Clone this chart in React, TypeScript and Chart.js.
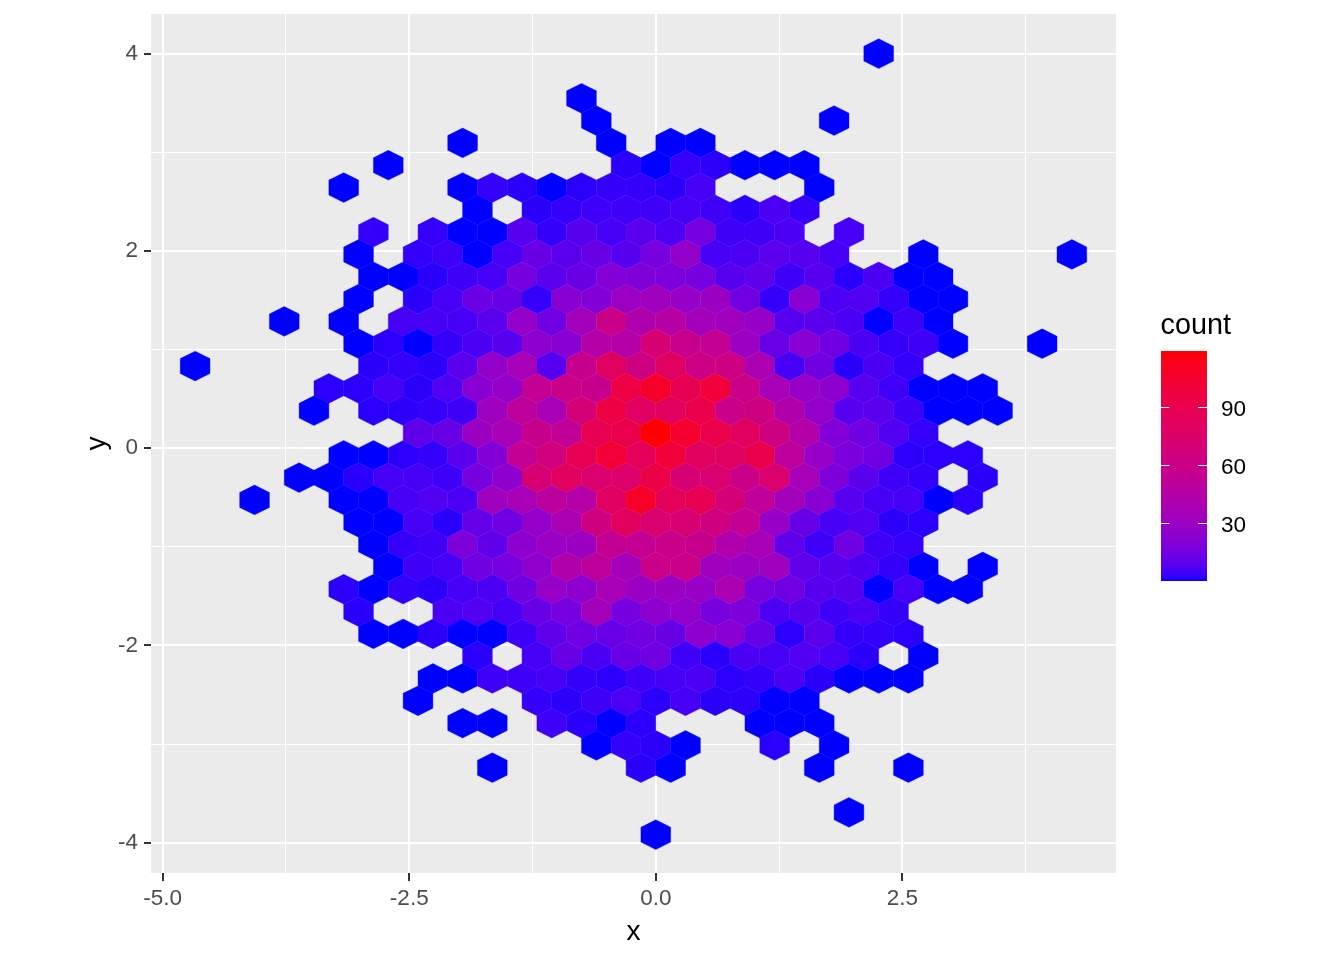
import React, { useEffect, useRef } from "react";
import { Chart, registerables } from "chart.js";

Chart.register(...registerables);

const xTicks = [-5, -3.75, -2.5, -1.25, 0, 1.25, 2.5, 3.75];
const yTicks = [-4, -3, -2, -1, 0, 1, 2, 3, 4];
const xMajor = [-5, -2.5, 0, 2.5];
const yMajor = [-4, -2, 0, 2, 4];
const legendTicks = [30, 60, 90];
const countMin = 0;
const countMax = 119;

// hexbin grid: half-column step in x, row step in y
const colStep = 0.1507;
const rowStep = 0.2263;
const rowZero = 0.154;

const rowIds = [-17, -15, -14, -13, -12, -11, -10, -9, -8, -7, -6, -5, -4, -3, -2, -1, 0, 1, 2, 3, 4, 5, 6, 7, 8, 9, 10, 11, 12, 13, 14, 15, 17, 18];
const rowCols = [
  [15],
  [-5],
  [-4, 12],
  [-13, -3, 1, 3],
  [-18, -2, 0, 2, 4, 6, 8, 10],
  [-21, -13, -11, -9, -7, -5, -3, -1, 1, 3, 11],
  [-12, -8, -6, -4, -2, 0, 2, 4, 6, 8, 10],
  [-19, -15, -13, -11, -9, -7, -5, -3, -1, 1, 3, 5, 7, 9, 13],
  [-20, -16, -14, -12, -10, -8, -6, -4, -2, 0, 2, 4, 6, 8, 10, 12, 18, 28],
  [-19, -17, -15, -13, -11, -9, -7, -5, -3, -1, 1, 3, 5, 7, 9, 11, 13, 15, 17, 19],
  [-20, -16, -14, -12, -10, -8, -6, -4, -2, 0, 2, 4, 6, 8, 10, 12, 14, 16, 18, 20],
  [-25, -21, -17, -15, -13, -11, -9, -7, -5, -3, -1, 1, 3, 5, 7, 9, 11, 13, 15, 17, 19],
  [-20, -18, -16, -14, -12, -10, -8, -6, -4, -2, 0, 2, 4, 6, 8, 10, 12, 14, 16, 18, 20, 26],
  [-31, -19, -17, -15, -13, -11, -9, -7, -5, -3, -1, 1, 3, 5, 7, 9, 11, 13, 15, 17],
  [-22, -20, -18, -16, -14, -12, -10, -8, -6, -4, -2, 0, 2, 4, 6, 8, 10, 12, 14, 16, 18, 20, 22],
  [-23, -19, -17, -15, -13, -11, -9, -7, -5, -3, -1, 1, 3, 5, 7, 9, 11, 13, 15, 17, 19, 21, 23],
  [-16, -14, -12, -10, -8, -6, -4, -2, 0, 2, 4, 6, 8, 10, 12, 14, 16, 18],
  [-21, -19, -17, -15, -13, -11, -9, -7, -5, -3, -1, 1, 3, 5, 7, 9, 11, 13, 15, 17, 19, 21],
  [-24, -22, -20, -18, -16, -14, -12, -10, -8, -6, -4, -2, 0, 2, 4, 6, 8, 10, 12, 14, 16, 18, 22],
  [-27, -21, -19, -17, -15, -13, -11, -9, -7, -5, -3, -1, 1, 3, 5, 7, 9, 11, 13, 15, 17, 19, 21],
  [-20, -18, -16, -14, -12, -10, -8, -6, -4, -2, 0, 2, 4, 6, 8, 10, 12, 14, 16, 18],
  [-19, -17, -15, -13, -11, -9, -7, -5, -3, -1, 1, 3, 5, 7, 9, 11, 13, 15, 17],
  [-18, -16, -14, -12, -10, -8, -6, -4, -2, 0, 2, 4, 6, 8, 10, 12, 14, 16, 18, 22],
  [-21, -19, -17, -15, -13, -11, -9, -7, -5, -3, -1, 1, 3, 5, 7, 9, 11, 13, 15, 17, 19, 21],
  [-20, -14, -12, -10, -8, -6, -4, -2, 0, 2, 4, 6, 8, 10, 12, 14, 16],
  [-19, -17, -15, -13, -11, -9, -7, -5, -3, -1, 1, 3, 5, 7, 9, 11, 13, 15, 17],
  [-12, -8, -6, -4, -2, 0, 2, 4, 6, 8, 10, 12, 14, 18],
  [-15, -13, -11, -9, -7, -5, -3, -1, 1, 3, 5, 7, 9, 11, 13, 15, 17],
  [-16, -8, -6, -4, -2, 0, 2, 4, 6, 8, 10],
  [-13, -11, -7, -5, -3, -1, 7, 9, 11],
  [-4, -2, 0, 2, 8, 12],
  [-11, -1, 1, 11, 17],
  [13],
  [0],
];
const rowCounts = [
  [1],
  [1],
  [1, 1],
  [1, 1, 1, 1],
  [1, 2, 1, 3, 2, 1, 1, 1],
  [1, 1, 3, 2, 1, 2, 3, 3, 2, 5, 1],
  [1, 2, 3, 4, 4, 4, 5, 4, 2, 6, 3],
  [3, 3, 1, 1, 8, 3, 8, 5, 9, 6, 16, 4, 4, 6, 5],
  [1, 3, 4, 1, 5, 12, 9, 12, 8, 16, 26, 5, 6, 9, 8, 5, 1, 1],
  [1, 1, 2, 4, 5, 16, 9, 12, 20, 19, 18, 16, 8, 10, 4, 8, 2, 6, 1, 1],
  [1, 2, 5, 13, 12, 3, 22, 20, 30, 32, 28, 30, 14, 3, 22, 6, 7, 3, 1, 1],
  [1, 1, 5, 5, 5, 9, 27, 14, 34, 60, 41, 46, 34, 32, 28, 8, 9, 6, 1, 4, 1],
  [1, 2, 1, 3, 6, 8, 24, 22, 44, 44, 71, 57, 54, 30, 12, 22, 14, 6, 3, 4, 1, 1],
  [1, 2, 3, 2, 9, 26, 36, 8, 57, 80, 63, 80, 62, 62, 38, 5, 14, 2, 6, 3],
  [2, 2, 5, 2, 7, 22, 27, 54, 60, 57, 95, 108, 88, 100, 60, 36, 28, 24, 8, 4, 1, 1, 1],
  [1, 2, 2, 3, 4, 32, 50, 37, 68, 95, 80, 82, 92, 60, 63, 41, 26, 8, 9, 4, 1, 1, 1],
  [10, 12, 30, 37, 57, 52, 88, 92, 119, 105, 92, 82, 62, 44, 20, 14, 7, 3],
  [1, 1, 2, 3, 9, 20, 54, 66, 88, 102, 85, 100, 82, 80, 92, 50, 28, 17, 14, 2, 2, 2],
  [1, 1, 2, 5, 5, 4, 16, 24, 71, 82, 75, 75, 94, 71, 73, 60, 74, 36, 18, 9, 4, 3, 2],
  [1, 1, 1, 5, 7, 6, 32, 36, 49, 44, 80, 108, 84, 88, 68, 52, 34, 22, 8, 5, 5, 1, 2],
  [1, 1, 5, 2, 11, 14, 26, 38, 64, 82, 73, 71, 64, 54, 28, 12, 5, 7, 2, 2],
  [1, 3, 4, 18, 10, 24, 30, 30, 54, 54, 60, 57, 41, 36, 10, 4, 14, 4, 3],
  [1, 4, 5, 14, 16, 25, 41, 50, 34, 60, 60, 32, 30, 32, 10, 8, 6, 3, 1, 1],
  [2, 1, 3, 2, 5, 6, 14, 28, 24, 36, 30, 30, 28, 38, 16, 14, 8, 8, 1, 5, 1, 1],
  [2, 6, 7, 5, 12, 16, 34, 16, 24, 26, 16, 18, 6, 8, 4, 6, 3],
  [1, 1, 2, 1, 1, 4, 10, 14, 12, 14, 12, 24, 22, 12, 2, 9, 3, 3, 2],
  [2, 5, 12, 6, 12, 14, 4, 2, 6, 5, 7, 5, 2, 1],
  [1, 1, 4, 4, 5, 3, 2, 4, 5, 6, 2, 3, 6, 2, 1, 1, 1],
  [1, 3, 2, 4, 6, 2, 5, 2, 2, 1, 1],
  [1, 1, 4, 2, 1, 2, 1, 1, 1],
  [1, 3, 2, 1, 2, 1],
  [1, 2, 1, 1, 1],
  [1],
  [1],
];

const FONT = '"Liberation Sans", Arial, sans-serif';

// ggplot2's scale_fill_gradient interpolates in CIE Lab
type V3 = [number, number, number];
const toLin = (c: number) => (c <= 0.04045 ? c / 12.92 : Math.pow((c + 0.055) / 1.055, 2.4));
const fromLin = (c: number) => (c <= 0.0031308 ? 12.92 * c : 1.055 * Math.pow(c, 1 / 2.4) - 0.055);
const WP: V3 = [0.95047, 1, 1.08883];
function rgb2lab([r, g, b]: V3): V3 {
  const R = toLin(r), G = toLin(g), B = toLin(b);
  const X = 0.4124564 * R + 0.3575761 * G + 0.1804375 * B;
  const Y = 0.2126729 * R + 0.7151522 * G + 0.072175 * B;
  const Z = 0.0193339 * R + 0.119192 * G + 0.9503041 * B;
  const f = (t: number) => (t > 216 / 24389 ? Math.cbrt(t) : (841 / 108) * t + 4 / 29);
  const fx = f(X / WP[0]), fy = f(Y / WP[1]), fz = f(Z / WP[2]);
  return [116 * fy - 16, 500 * (fx - fy), 200 * (fy - fz)];
}
function lab2rgb([L, a, b]: V3): string {
  const fy = (L + 16) / 116, fx = fy + a / 500, fz = fy - b / 200;
  const inv = (t: number) => (t > 6 / 29 ? t * t * t : (108 / 841) * (t - 4 / 29));
  const X = inv(fx) * WP[0], Y = inv(fy) * WP[1], Z = inv(fz) * WP[2];
  const R = 3.2404542 * X - 1.5371385 * Y - 0.4985314 * Z;
  const G = -0.969266 * X + 1.8760108 * Y + 0.041556 * Z;
  const B = 0.0556434 * X - 0.2040259 * Y + 1.0572252 * Z;
  const c = (v: number) => Math.round(255 * Math.min(1, Math.max(0, fromLin(Math.max(0, v)))));
  return `rgb(${c(R)},${c(G)},${c(B)})`;
}
const LOW = rgb2lab([0, 0, 1]);
const HIGH = rgb2lab([1, 0, 0]);
function ramp(t: number): string {
  const u = Math.min(1, Math.max(0, t));
  return lab2rgb([
    LOW[0] + (HIGH[0] - LOW[0]) * u,
    LOW[1] + (HIGH[1] - LOW[1]) * u,
    LOW[2] + (HIGH[2] - LOW[2]) * u,
  ]);
}
const fillOf = (count: number) => ramp(count <= 1 ? 0 : (count - countMin) / (countMax - countMin));

const points: { x: number; y: number }[] = [];
const fills: string[] = [];
rowIds.forEach((row, i) => {
  rowCols[i].forEach((col, j) => {
    points.push({ x: col * colStep, y: rowZero - row * rowStep });
    fills.push(fillOf(rowCounts[i][j]));
  });
});

const panelPlugin = {
  id: "panel",
  beforeDraw(chart: any) {
    const { ctx, chartArea: a } = chart;
    ctx.save();
    ctx.fillStyle = "#EBEBEB";
    ctx.fillRect(a.left, a.top, a.right - a.left, a.bottom - a.top);
    ctx.restore();
  },
};

const hexPlugin = {
  id: "hexes",
  beforeDatasetDraw(chart: any, args: any) {
    const { ctx, scales } = chart;
    const halfW = Math.abs(scales.x.getPixelForValue(colStep) - scales.x.getPixelForValue(0));
    const r = (Math.abs(scales.y.getPixelForValue(rowStep) - scales.y.getPixelForValue(0)) * 2) / 3;
    ctx.save();
    ctx.lineJoin = "miter";
    args.meta.data.forEach((el: any) => {
      const { x, y } = el;
      const col = el.options.backgroundColor;
      ctx.beginPath();
      ctx.moveTo(x, y - r);
      ctx.lineTo(x + halfW, y - r / 2);
      ctx.lineTo(x + halfW, y + r / 2);
      ctx.lineTo(x, y + r);
      ctx.lineTo(x - halfW, y + r / 2);
      ctx.lineTo(x - halfW, y - r / 2);
      ctx.closePath();
      ctx.fillStyle = col;
      ctx.strokeStyle = col;
      ctx.lineWidth = 0.4;
      ctx.fill();
      ctx.stroke();
    });
    ctx.restore();
    return false;
  },
};

const legendPlugin = {
  id: "colourbar",
  afterDraw(chart: any) {
    const { ctx } = chart;
    const L = 1161, R = 1207, T = 351, B = 581;
    const yOf = (v: number) => 523 - (v - 30) * 1.928;
    ctx.save();
    for (let py = T; py < B; py++) {
      ctx.fillStyle = ramp((B - py - 0.5) / (B - T));
      ctx.fillRect(L, py, R - L, 1);
    }
    ctx.fillStyle = "#000";
    ctx.textBaseline = "alphabetic";
    ctx.textAlign = "left";
    ctx.font = `28.8px ${FONT}`;
    ctx.fillText("count", 1160.5, 334);
    ctx.font = `22.5px ${FONT}`;
    ctx.textBaseline = "middle";
    legendTicks.forEach((v) => {
      const y = Math.round(yOf(v)) + 0.5;
      ctx.strokeStyle = "#fff";
      ctx.lineWidth = 1;
      ctx.beginPath();
      ctx.moveTo(L, y);
      ctx.lineTo(L + 8.5, y);
      ctx.moveTo(R - 9, y);
      ctx.lineTo(R, y);
      ctx.stroke();
      ctx.fillText(String(v), 1221, y + 2);
    });
    ctx.restore();
  },
};

export default function App() {
  const ref = useRef<HTMLCanvasElement | null>(null);
  useEffect(() => {
    if (!ref.current) return;
    const isX = (v: number) => xMajor.includes(v);
    const isY = (v: number) => yMajor.includes(v);
    const chart = new Chart(ref.current, {
      type: "scatter",
      data: {
        datasets: [
          { label: "count", data: points, backgroundColor: fills, pointRadius: 4, clip: false } as any,
        ],
      },
      plugins: [panelPlugin, hexPlugin, legendPlugin],
      options: {
        animation: false,
        responsive: false,
        devicePixelRatio: 1,
        layout: { padding: { left: 0, top: 14, right: 228, bottom: 0 } },
        plugins: { legend: { display: false }, tooltip: { enabled: false }, title: { display: false } },
        scales: {
          x: {
            type: "linear",
            min: -5.119,
            max: 4.667,
            afterBuildTicks: (s: any) => {
              s.ticks = xTicks.map((value) => ({ value }));
            },
            afterFit: (s: any) => {
              s.height = 87;
              s.paddingLeft = 0;
              s.paddingRight = 0;
            },
            border: { display: false },
            grid: {
              color: "#FFFFFF",
              lineWidth: (c: any) => (isX(c.tick?.value) ? 2 : 1),
              tickColor: (c: any) => (isX(c.tick?.value) ? "#333333" : "rgba(0,0,0,0)"),
              tickLength: 8,
              tickWidth: 2,
            },
            ticks: {
              autoSkip: false,
              maxRotation: 0,
              minRotation: 0,
              padding: 4,
              color: "#4D4D4D",
              font: { family: FONT, size: 22.5 },
              callback: (v: any) => (isX(Number(v)) ? Number(v).toFixed(1) : ""),
            },
            title: {
              display: true,
              text: "x",
              color: "#000",
              font: { family: FONT, size: 28.2 },
              padding: { top: 0, bottom: 11 },
            },
          },
          y: {
            type: "linear",
            min: -4.308,
            max: 4.403,
            afterBuildTicks: (s: any) => {
              s.ticks = yTicks.map((value) => ({ value }));
            },
            afterFit: (s: any) => {
              s.width = 151;
              s.paddingTop = 0;
              s.paddingBottom = 0;
            },
            border: { display: false },
            grid: {
              color: "#FFFFFF",
              lineWidth: (c: any) => (isY(c.tick?.value) ? 2 : 1),
              tickColor: (c: any) => (isY(c.tick?.value) ? "#333333" : "rgba(0,0,0,0)"),
              tickLength: 7,
              tickWidth: 2,
            },
            ticks: {
              autoSkip: false,
              padding: 6,
              color: "#4D4D4D",
              font: { family: FONT, size: 22.5 },
              callback: (v: any) => (isY(Number(v)) ? String(v) : ""),
            },
            title: {
              display: true,
              text: "y",
              color: "#000",
              font: { family: FONT, size: 28.2 },
              padding: { top: 80, bottom: 0 },
            },
          },
        },
      },
    } as any);
    return () => chart.destroy();
  }, []);
  return (
    <div style={{ position: "absolute", left: 0, top: 0, width: 1344, height: 960, background: "#fff" }}>
      <canvas ref={ref} width={1344} height={960} style={{ display: "block" }} />
    </div>
  );
}
